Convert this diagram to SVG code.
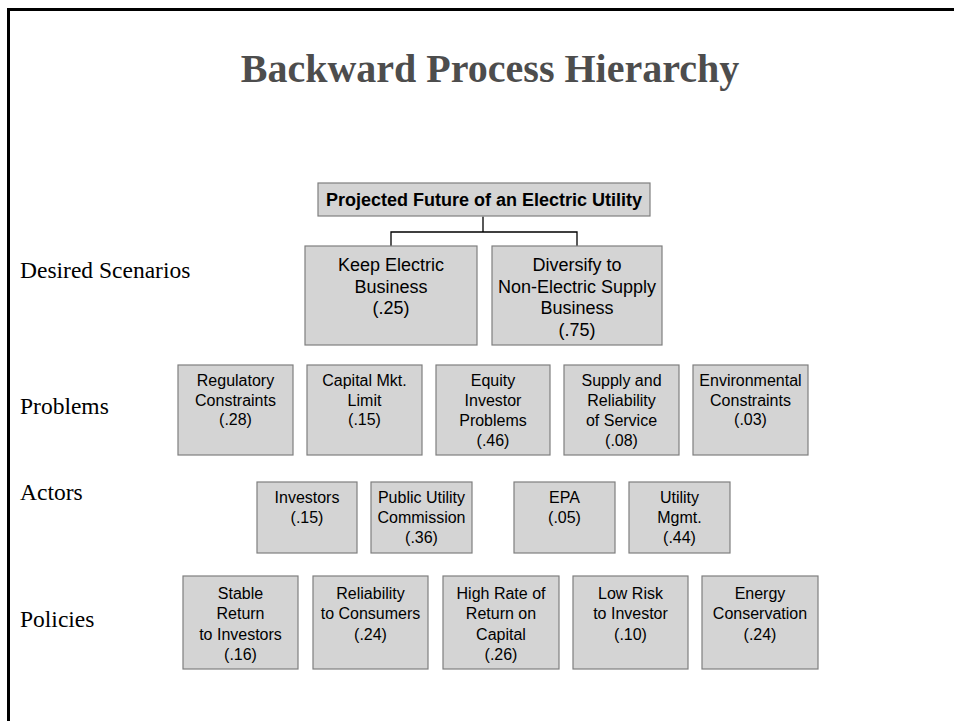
<svg xmlns="http://www.w3.org/2000/svg" width="954" height="721" viewBox="0 0 954 721">
  <style>
    .frame { fill: none; stroke: #000; stroke-width: 3; }
    .title { font-family: "Liberation Serif", "Times New Roman", serif; font-weight: bold; font-size: 40px; fill: #4d4d4d; text-anchor: middle; }
    .level { font-family: "Liberation Serif", "Times New Roman", serif; font-size: 23.5px; fill: #000; }
    .box { fill: #d4d4d4; stroke: #7f7f7f; stroke-width: 1.2; }
    .lbl { font-family: "Liberation Sans", Arial, sans-serif; font-size: 16px; fill: #000; text-anchor: middle; }
    .big { font-size: 18px; }
    .root { font-weight: bold; font-size: 18px; }
    .wire { fill: none; stroke: #000; stroke-width: 1.3; }
  </style>

  <path class="frame" d="M8.5,721 V9.5 H954"/>

  <text class="title" x="490" y="82">Backward Process Hierarchy</text>

  <!-- level names -->
  <g id="levels">
    <text class="level" x="20" y="278">Desired Scenarios</text>
    <text class="level" x="20" y="414">Problems</text>
    <text class="level" x="20" y="500">Actors</text>
    <text class="level" x="20" y="627">Policies</text>
  </g>

  <!-- connectors -->
  <g id="connectors">
    <path class="wire" d="M483,216.5 V232 H391 V246 M483,232 H577 V246"/>
  </g>

  <!-- root -->
  <g id="root">
    <rect class="box" x="318" y="183" width="332" height="33"/>
    <text class="lbl root" x="484" y="206">Projected Future of an Electric Utility</text>
  </g>

  <!-- desired scenarios -->
  <g id="keep-electric">
    <rect class="box" x="305" y="246" width="172" height="99"/>
    <text class="lbl big" x="391" y="271">Keep Electric<tspan x="391" dy="21.5">Business</tspan><tspan x="391" dy="21.5">(.25)</tspan></text>
  </g>
  <g id="diversify">
    <rect class="box" x="492" y="246" width="170" height="99"/>
    <text class="lbl big" x="577" y="271">Diversify to<tspan x="577" dy="21.5">Non-Electric Supply</tspan><tspan x="577" dy="21.5">Business</tspan><tspan x="577" dy="21.5">(.75)</tspan></text>
  </g>

  <!-- problems -->
  <g id="regulatory">
    <rect class="box" x="178" y="365" width="115" height="90"/>
    <text class="lbl" x="235.5" y="386">Regulatory<tspan x="235.5" dy="19.5">Constraints</tspan><tspan x="235.5" dy="19.5">(.28)</tspan></text>
  </g>
  <g id="capital">
    <rect class="box" x="307" y="365" width="115" height="90"/>
    <text class="lbl" x="364.5" y="386">Capital Mkt.<tspan x="364.5" dy="19.5">Limit</tspan><tspan x="364.5" dy="19.5">(.15)</tspan></text>
  </g>
  <g id="equity">
    <rect class="box" x="436" y="365" width="114" height="90"/>
    <text class="lbl" x="493" y="386">Equity<tspan x="493" dy="20">Investor</tspan><tspan x="493" dy="20">Problems</tspan><tspan x="493" dy="20">(.46)</tspan></text>
  </g>
  <g id="supply">
    <rect class="box" x="564" y="365" width="115" height="90"/>
    <text class="lbl" x="621.5" y="386">Supply and<tspan x="621.5" dy="20">Reliability</tspan><tspan x="621.5" dy="20">of Service</tspan><tspan x="621.5" dy="20">(.08)</tspan></text>
  </g>
  <g id="environmental">
    <rect class="box" x="693" y="365" width="115" height="90"/>
    <text class="lbl" x="750.5" y="386">Environmental<tspan x="750.5" dy="19.5">Constraints</tspan><tspan x="750.5" dy="19.5">(.03)</tspan></text>
  </g>

  <!-- actors -->
  <g id="investors">
    <rect class="box" x="257" y="482" width="100" height="71"/>
    <text class="lbl" x="307" y="503">Investors<tspan x="307" dy="20">(.15)</tspan></text>
  </g>
  <g id="puc">
    <rect class="box" x="371" y="482" width="101" height="71"/>
    <text class="lbl" x="421.5" y="503">Public Utility<tspan x="421.5" dy="20">Commission</tspan><tspan x="421.5" dy="20">(.36)</tspan></text>
  </g>
  <g id="epa">
    <rect class="box" x="514" y="482" width="101" height="71"/>
    <text class="lbl" x="564.5" y="503">EPA<tspan x="564.5" dy="20">(.05)</tspan></text>
  </g>
  <g id="utility-mgmt">
    <rect class="box" x="629" y="482" width="101" height="71"/>
    <text class="lbl" x="679.5" y="503">Utility<tspan x="679.5" dy="20">Mgmt.</tspan><tspan x="679.5" dy="20">(.44)</tspan></text>
  </g>

  <!-- policies -->
  <g id="stable-return">
    <rect class="box" x="183" y="576" width="115" height="93"/>
    <text class="lbl" x="240.5" y="599">Stable<tspan x="240.5" dy="20.3">Return</tspan><tspan x="240.5" dy="20.3">to Investors</tspan><tspan x="240.5" dy="20.3">(.16)</tspan></text>
  </g>
  <g id="reliability">
    <rect class="box" x="313" y="576" width="115" height="93"/>
    <text class="lbl" x="370.5" y="599">Reliability<tspan x="370.5" dy="20.3">to Consumers</tspan><tspan x="370.5" dy="20.3">(.24)</tspan></text>
  </g>
  <g id="high-rate">
    <rect class="box" x="443" y="576" width="116" height="93"/>
    <text class="lbl" x="501" y="599">High Rate of<tspan x="501" dy="20.3">Return on</tspan><tspan x="501" dy="20.3">Capital</tspan><tspan x="501" dy="20.3">(.26)</tspan></text>
  </g>
  <g id="low-risk">
    <rect class="box" x="573" y="576" width="115" height="93"/>
    <text class="lbl" x="630.5" y="599">Low Risk<tspan x="630.5" dy="20.3">to Investor</tspan><tspan x="630.5" dy="20.3">(.10)</tspan></text>
  </g>
  <g id="energy-conservation">
    <rect class="box" x="702" y="576" width="116" height="93"/>
    <text class="lbl" x="760" y="599">Energy<tspan x="760" dy="20.3">Conservation</tspan><tspan x="760" dy="20.3">(.24)</tspan></text>
  </g>
</svg>
